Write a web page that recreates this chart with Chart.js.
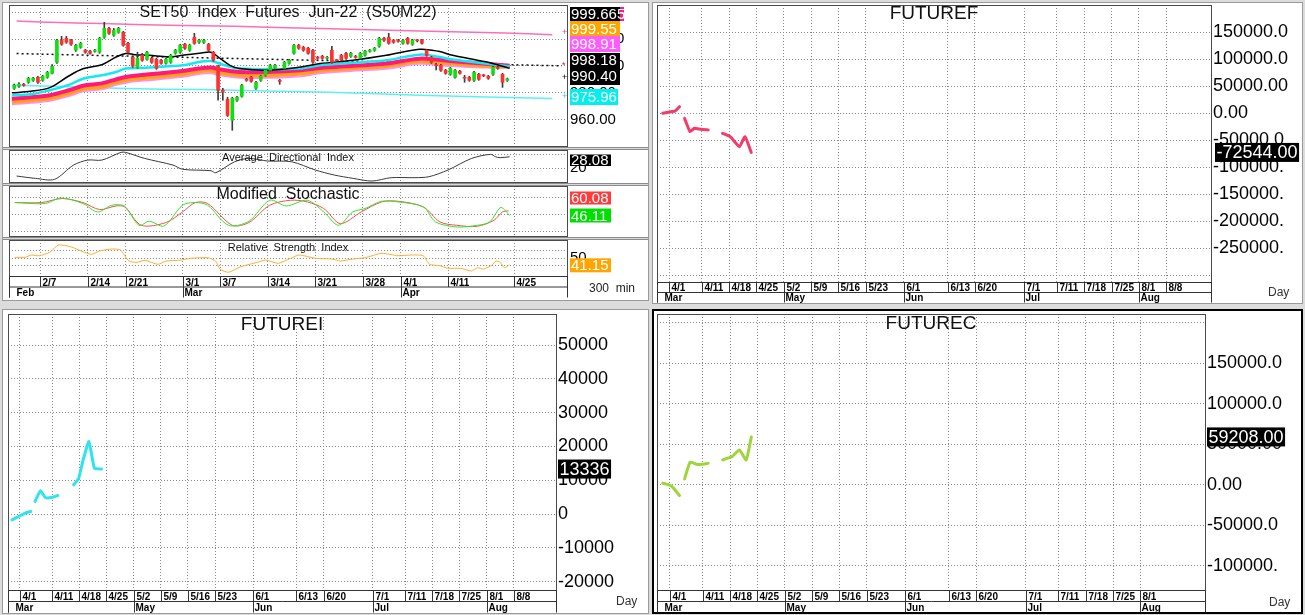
<!DOCTYPE html>
<html lang="en">
<head>
<meta charset="UTF-8">
<title>SET50 futures</title>
<script src="https://cdn.jsdelivr.net/npm/chart.js"></script>
<style>
  body { margin: 0; width: 1305px; height: 615px; background: #dcdcdc; position: relative; overflow: hidden; }
  .panel { position: absolute; background: #fff; border: 1px solid #9a9a9a; box-sizing: border-box; }
  .sep { position: absolute; background: #d8d8d8; border-top: 1px solid #8c8c8c; border-bottom: 1px solid #8c8c8c; box-sizing: border-box; }
  canvas { position: absolute; }
</style>
</head>
<body>
<div class="panel" style="left:2px;top:2px;width:647px;height:299px"></div>
<div class="panel" style="left:652px;top:2px;width:651px;height:302px"></div>
<div class="panel" style="left:2px;top:309px;width:647px;height:305px"></div>
<div class="panel" style="left:652px;top:309px;width:651px;height:305px;border:2px solid #000"></div>
<div class="sep" style="left:3px;top:147px;width:645px;height:3px"></div>
<div class="sep" style="left:3px;top:183px;width:645px;height:3px"></div>
<div class="sep" style="left:3px;top:237px;width:645px;height:3px"></div>

<canvas id="cPrice" width="648" height="147" style="left:0;top:0"></canvas>
<canvas id="cAdx" width="648" height="33" style="left:0;top:150px"></canvas>
<canvas id="cStoch" width="648" height="51" style="left:0;top:186px"></canvas>
<canvas id="cRsi" width="648" height="60" style="left:0;top:240px"></canvas>
<canvas id="cF" width="655" height="305" style="left:650px;top:0"></canvas>
<canvas id="cI" width="650" height="310" style="left:0;top:305px"></canvas>
<canvas id="cC" width="655" height="310" style="left:650px;top:305px"></canvas>

<script>
// ---- SET50 futures, 300 min bars (bar 2 .. bar 106) ----
const firstBar = 2;
const opens  = [983.3,984.8,986.3,987.8,989.3,991.5,989.3,991.5,994.5,1002.8,1019.3,1020.7,1019.3,1011.8,1014.0,1011.8,1011.0,1011.0,1010.3,1021.5,1028.2,1023.0,1025.2,1025.2,1017.0,1006.5,999.0,1008.0,1005.0,1005.8,1005.0,1004.3,1002.0,1002.8,1009.5,1010.3,1016.3,1011.8,1021.5,1017.8,1017.8,1016.3,1010.3,999.8,981.8,975.1,959.3,974.3,977.3,990.0,991.5,983.3,989.3,993.0,996.8,998.3,989.3,998.3,1002.0,1009.5,1015.5,1014.0,1013.3,1011.8,1006.5,1007.3,1005.8,1011.8,1004.3,1008.0,1009.5,1007.3,1007.3,1005.8,1008.0,1011.0,1011.8,1014.8,1020.7,1021.5,1019.3,1019.3,1017.0,1020.7,1016.3,1019.3,1019.3,1011.8,1006.5,1000.5,1000.5,996.8,993.8,991.5,996.0,991.0,991.5,989.3,993.8,993.0,992.3,993.8,999.0,993.8,989.3];
const closes = [985.5,986.3,985.5,990.8,990.8,987.8,992.3,995.3,999.8,1019.3,1016.3,1017.8,1016.3,1015.5,1017.0,1010.3,1009.5,1011.8,1020.7,1028.2,1024.5,1026.7,1028.2,1015.5,1010.3,999.8,1005.8,1004.3,1010.3,1002.8,998.3,1002.0,1005.0,1008.0,1011.8,1015.5,1013.3,1015.5,1017.0,1019.3,1019.3,1011.8,1004.3,981.8,980.3,963.0,975.8,976.6,985.5,989.3,988.5,987.8,992.3,996.8,1000.5,1000.5,988.5,1002.8,1004.3,1015.5,1013.3,1011.8,1009.5,1002.8,1005.8,1005.8,1006.5,1002.8,1004.0,1004.3,1005.8,1009.5,1006.5,1009.5,1011.0,1011.8,1013.3,1020.7,1019.3,1017.0,1017.8,1018.5,1019.3,1017.0,1019.3,1018.9,1017.0,1008.0,1002.8,1000.2,996.8,994.5,998.3,996.8,994.5,990.8,989.3,995.3,990.0,992.6,990.8,999.0,998.3,987.8,990.4];
const highs  = [986.5,987.5,987.0,991.5,991.5,992.3,993.0,996.0,1001.0,1020.0,1022.2,1022.2,1020.0,1016.3,1017.8,1012.5,1011.8,1012.5,1021.5,1032.7,1029.0,1028.2,1029.0,1026.0,1017.8,1007.3,1010.3,1009.5,1011.0,1006.5,1005.8,1005.0,1005.8,1008.8,1012.5,1016.3,1017.0,1016.3,1024.5,1020.0,1020.0,1017.0,1011.0,1000.5,983.3,976.6,976.6,977.3,986.3,990.8,992.3,988.5,993.0,997.5,1001.3,1001.3,990.0,1003.5,1005.0,1016.3,1016.3,1014.8,1014.0,1012.5,1007.3,1008.0,1007.3,1014.8,1005.0,1008.8,1010.3,1010.3,1008.0,1010.3,1011.8,1012.5,1014.0,1021.5,1021.5,1024.5,1020.0,1020.0,1020.0,1021.5,1020.0,1020.0,1020.0,1012.5,1007.3,1002.0,1001.3,997.5,999.0,997.5,996.8,993.0,992.3,996.0,994.5,993.8,993.0,999.8,999.8,994.5,991.0];
const lows   = [982.5,984.0,984.8,987.0,988.5,987.0,988.5,990.8,994.0,1002.0,1015.5,1017.0,1015.5,1011.0,1013.3,1009.5,1008.8,1010.3,1009.5,1020.7,1023.7,1022.2,1024.5,1014.8,1009.5,999.0,998.3,1003.5,1004.3,1002.0,997.5,1001.3,1001.3,1002.0,1008.8,1009.5,1012.5,1011.0,1016.3,1017.0,1017.0,1011.0,1003.5,974.3,974.3,962.2,951.8,973.5,976.6,988.5,987.8,982.5,988.5,992.3,996.0,997.5,986.3,997.5,1001.3,1008.8,1012.5,1011.0,1008.8,1002.0,1005.0,1005.0,1005.0,1002.0,1003.5,1003.5,1005.0,1006.5,1005.8,1005.0,1007.3,1010.3,1011.0,1014.0,1018.5,1016.3,1017.0,1017.8,1016.3,1016.3,1015.5,1018.0,1016.3,1007.3,1002.0,997.0,996.0,993.8,993.0,990.8,993.8,987.8,988.5,988.5,989.3,992.0,990.0,993.0,997.5,984.0,988.5];

// moving averages, read at these bar positions
const maX       = [2,6,10,14,17,21,24,26,28,31,35,38,42,44,46,48,50,56,63,67,74,81,88,92,95,102,107];
const maBlack   = [979.9,981.0,983.8,992.5,997.9,1000.9,1006.7,1009.3,1008.5,1008.0,1006.9,1008.0,1009.7,1010.3,1005.5,1000.5,998.1,996.8,999.3,1001.8,1004.3,1008.0,1012.5,1011.0,1008.0,1003.1,998.2];
const maCyan    = [978.1,978.8,981.8,985.9,990.4,993.0,995.5,998.1,998.4,998.8,999.8,1000.5,1003.3,1003.7,1001.6,999.4,998.1,997.5,998.1,1000.5,1002.4,1004.3,1008.5,1006.9,1004.8,1001.8,999.7];
const maPink    = [975.4,976.6,978.1,981.8,985.2,987.0,990.0,991.8,992.7,993.8,995.1,996.3,998.3,998.8,997.3,996.3,995.5,995.5,996.8,998.5,1000.1,1001.8,1005.5,1004.6,1003.5,1001.6,1000.2];
const maOrange  = [973.2,974.3,975.8,979.3,982.9,984.4,987.8,989.3,990.4,991.3,992.7,993.8,996.3,996.4,994.9,993.8,993.0,993.0,994.3,996.4,998.3,999.8,1003.5,1002.5,1001.8,1000.1,999.55];
const maMagenta = [971.3,972.4,973.9,977.4,981.0,982.5,985.9,987.4,988.5,989.4,990.8,991.9,994.4,994.5,993.0,991.9,991.1,991.1,992.4,994.5,996.4,997.9,1001.6,1000.6,999.9,998.8,998.9];
const envUpX = [3,10,21,35,49,67,88,106,116];
const envUp  = [1033.7,1032.7,1031.8,1030.5,1029.7,1028.0,1026.2,1024.7,1023.5];
const envLoX = [2,11,26,42,56,67,88,116];
const envLo  = [985.5,984.8,983.1,982.3,981.3,980.5,978.1,975.6];
const trendX = [3,118];
const trendY = [1009.3,1000.1];

// indicators
const adxX = [3,7,11,15,18,21,25,26,30,36,38,44,45,49,52,56,61,66,70,74,78,82,87,90,94,99,103,104,105,107];
const adxY = [14.3,12.6,11.9,22.1,25.7,25.7,31.2,31.2,26.9,22.1,19.1,18.1,16.6,24.5,26.9,25.0,24.5,18.6,15.0,12.6,10.7,13.1,13.1,13.8,18.6,26.9,29.8,28.1,27.4,28.08];
const stRedX = [2.6,8.3,12.6,17,20.5,24,25.8,29.3,34.5,38,40.7,43.3,48.5,52,56.4,60.8,64.3,67.8,71.3,75.7,80,83.5,88.8,92.3,95.8,100.2,103.7,105.5,106.8];
const stRedY = [84.4,84.4,96.2,84.4,63.8,74.4,71.5,17.6,25.6,56.8,84.4,81.5,17.6,25.6,76.5,91.2,86.2,66.8,22.6,56.8,86.2,88.2,71.5,27.4,17.6,14.7,32.4,56.8,60.08];
const stGrnX = [2.6,9.1,12.2,17,20.1,23.1,25.8,28.8,31,34.1,38,40.7,43.3,47.7,52,56.4,59.9,64.3,67.8,70.9,73.9,76.5,80,83.5,88.8,91.4,95.8,100.2,102.8,105,105.9,107];
const stGrnY = [84.4,81.5,97.9,81.5,56.8,76.5,73.5,17.6,29.4,15.6,76.5,84.4,76.5,17.6,29.4,91.2,74.4,91.2,56.8,17.6,56.8,66.8,88.2,86.2,71.5,27.4,12.6,17.6,27.4,69.7,63.8,46.11];
const rsiX = [2.6,4.8,6.1,7.8,10,11.8,14.4,17,18.8,20.5,23.1,24.9,26.7,28.4,30.1,32.8,34.5,37.2,39.8,43.3,45,45.9,47.7,50.3,53.8,55.5,58.2,60.8,62.6,66.1,69.6,71.3,73.9,76.5,80,83.5,86.2,88.8,90.1,92.3,94,96.7,98.9,100.2,101.5,103.3,104.1,105,105.9,107];
const rsiY = [51.4,51.4,54.5,53.5,58.2,68.1,65.8,59,55.4,59.9,62.7,61.3,46.3,44.6,47.3,41.8,46.3,47.3,50,50.8,46.3,35.4,31,38.6,44.6,47.7,43.2,50,54.5,50,49,46.3,49,50.8,56.8,53.5,54.5,53.5,41.8,39.9,36.4,36.4,32.7,37.2,35.4,40.9,46.3,44.6,37.2,41.15];

// top-left date axis
const tlHolidays = ['2/16','4/6','4/13','4/14','4/15'];
const tlTickLabels = ['2/7','2/14','2/21','3/1','3/7','3/14','3/21','3/28','4/1','4/11','4/25'];
const tlMonthStarts = ['2/1','3/1','4/1'];
const tlMonthNames = ['Feb','Mar','Apr'];

// FUTUREF / FUTUREI / FUTUREC (daily, null = break in the line)
const futurefX = [2.85,4.38,5.15,5.92,6.4,6.85,7.86,8.63,9.78,11.17,12.5,13.8,15.2,16.9,17.9,19.05];
const futurefY = [0,3000,4300,12300,null,-9260,-34000,-27800,-29600,-30900,null,-37000,-43300,-61800,-43300,-72544];
const futureiX = [2.6,4.15,5.07,6.06,6.45,6.84,7.83,8.74,9.9,11.04,12.5,13.95,14.85,15.63,16.77,17.77,19.08];
const futureiY = [-1690,-410,300,770,null,3730,6900,4900,4900,5500,null,8670,10440,15560,21480,13610,13336];
const futurecX = [2.7,3.85,4.6,5.77,6.2,6.7,7.7,8.86,10,11.0,12.3,13.65,15.4,16.7,17.96,18.9];
const futurecY = [2100,0,-3300,-13200,null,7400,28000,25500,25500,26800,null,30900,35000,43200,30900,59208];
const futurefTicks = [-300000,-250000,-200000,-150000,-100000,-50000,0,50000,100000,150000,200000];
const futureiTicks = [-20000,-10000,0,10000,20000,30000,40000,50000];
const futurecTicks = [-100000,-50000,0,50000,100000,150000,200000];
const dayTickLabels = ['4/1','4/11','4/18','4/25','5/2','5/9','5/16','5/23','6/1','6/13','6/20','7/1','7/11','7/18','7/25','8/1','8/8'];
const dayTickLabelsC = ['4/1','4/11','4/18','4/25','5/2','5/9','5/16','5/23','6/1','6/13','6/20','7/1','7/11','7/18','7/25','8/1'];
const monthStarts = ['3/28','5/2','6/1','7/1','8/1'];
const monthNames = ['Mar','May','Jun','Jul','Aug'];

const FONT = '"Liberation Sans", Arial, sans-serif';
Chart.defaults.font.family = FONT;
Chart.defaults.color = '#000';
Chart.defaults.animation = false;

function dayList(from, to, skip) {
  const f = from.split('-').map(Number), t = to.split('-').map(Number);
  const d = new Date(f[0], f[1] - 1, f[2]), end = new Date(t[0], t[1] - 1, t[2]);
  const out = [];
  while (d <= end) {
    const lbl = (d.getMonth() + 1) + '/' + d.getDate();
    if (d.getDay() % 6 !== 0 && skip.indexOf(lbl) < 0) out.push(lbl);
    d.setDate(d.getDate() + 1);
  }
  return out;
}
const tlDays = dayList('2022-02-01', '2022-04-29', tlHolidays);
const tlTickU = tlTickLabels.map(l => 2 * tlDays.indexOf(l));
const tlMonthU = tlMonthStarts.map(l => 2 * tlDays.indexOf(l));
const rDays = dayList('2022-03-28', '2022-08-31', []);
const dayTickX = dayTickLabels.map(l => rDays.indexOf(l));
const dayTickXC = dayTickLabelsC.map(l => rDays.indexOf(l));
const monthX = monthStarts.map(l => rDays.indexOf(l));

function pts(xs, ys) { return xs.map((x, i) => ({x: x, y: ys[i]})); }

function deco(o) {
  return {
    id: 'deco',
    afterDraw(chart) {
      const ctx = chart.ctx, a = chart.chartArea, sx = chart.scales.x, sy = chart.scales.y;
      const ox = o.ox || 0, oy = o.oy || 0;
      ctx.save();
      ctx.lineWidth = 1;
      ctx.strokeStyle = '#4a4a4a';
      const L = Math.round(a.left) + 0.5, R = Math.round(a.right) + 0.5;
      const T = Math.round(a.top) + 0.5, B = Math.round(a.bottom) - 0.5;
      ctx.strokeRect(L, T, R - L, B - T);
      if (o.title) {
        ctx.font = o.titleFont; ctx.fillStyle = '#111';
        ctx.textAlign = 'center'; ctx.textBaseline = 'middle';
        ctx.fillText(o.title, (a.left + a.right) / 2, a.top + o.titleDy);
      }
      if (o.dates) {
        const d = o.dates, y0 = B, h = d.rowH;
        ctx.strokeStyle = '#333';
        ctx.beginPath();
        ctx.moveTo(L, y0); ctx.lineTo(R, y0);
        ctx.moveTo(L, y0 + h); ctx.lineTo(R, y0 + h);
        ctx.moveTo(L, y0); ctx.lineTo(L, y0 + 2 * h);
        ctx.moveTo(R, y0); ctx.lineTo(R, y0 + 2 * h);
        ctx.stroke();
        ctx.font = 'bold 10px ' + FONT; ctx.fillStyle = '#000';
        ctx.textAlign = 'left'; ctx.textBaseline = 'middle';
        d.ticks.forEach((v, i) => {
          const px = Math.round(sx.getPixelForValue(v)) + 0.5;
          ctx.beginPath(); ctx.moveTo(px, y0); ctx.lineTo(px, y0 + h); ctx.stroke();
          ctx.fillText(d.labels[i], px + 2, y0 + h / 2 + 1);
        });
        d.months.forEach((v, i) => {
          const px = Math.max(Math.round(sx.getPixelForValue(v)) + 0.5, L);
          ctx.beginPath(); ctx.moveTo(px, y0 + h); ctx.lineTo(px, y0 + 2 * h); ctx.stroke();
          ctx.fillText(d.monthLabels[i], Math.max(px, L + 6) + 1, y0 + 1.5 * h + 1);
        });
      }
      (o.boxes || []).forEach(b => {
        ctx.fillStyle = b.bg; ctx.fillRect(b.x - ox, b.y - oy, b.w, b.h);
        ctx.fillStyle = '#fff'; ctx.font = b.font || ('15px ' + FONT);
        ctx.textAlign = 'left'; ctx.textBaseline = 'middle';
        ctx.fillText(b.t, b.x - ox + 1, b.y - oy + b.h / 2 + 1);
      });
      if (o.last) {
        const py = sy.getPixelForValue(o.last.v);
        ctx.font = '18px ' + FONT;
        const w = ctx.measureText(o.last.t).width + 3;
        ctx.fillStyle = '#000'; ctx.fillRect(a.right + o.last.dx, py - 9.5, w, 19);
        ctx.fillStyle = '#fff'; ctx.textAlign = 'left'; ctx.textBaseline = 'middle';
        ctx.fillText(o.last.t, a.right + o.last.dx + 1.5, py + 1);
      }
      (o.texts || []).forEach(t => {
        ctx.font = t.font; ctx.fillStyle = t.c || '#333';
        ctx.textAlign = 'left'; ctx.textBaseline = 'middle';
        ctx.fillText(t.t, t.x - ox, t.y - oy);
      });
      ctx.restore();
    }
  };
}

function xScale(min, max, ticks) {
  return {
    type: 'linear', min: min, max: max, offset: false,
    afterBuildTicks: s => { s.ticks = ticks.map(v => ({value: v})); },
    ticks: {display: false},
    grid: {color: '#8a8a8a', drawTicks: false, offset: false},
    border: {display: false, dash: [1, 2]}
  };
}
function yScale(min, max, ticks, fmt, width, size, pad) {
  return {
    type: 'linear', position: 'right', min: min, max: max,
    afterBuildTicks: s => { s.ticks = ticks.map(v => ({value: v})); },
    afterFit: s => { s.width = width; s.paddingTop = 0; s.paddingBottom = 0; },
    ticks: {callback: fmt, font: {size: size}, color: '#000', padding: pad, autoSkip: false, maxRotation: 0},
    grid: {color: '#8a8a8a', drawTicks: false},
    border: {display: false, dash: [1, 2]}
  };
}
function baseOpts(padding, x, y) {
  return {
    responsive: false, maintainAspectRatio: false, animation: false, events: [],
    layout: {padding: padding},
    plugins: {legend: {display: false}, tooltip: {enabled: false}},
    scales: {x: x, y: y}
  };
}
function line(data, color, width, order, extra) {
  return Object.assign({type: 'line', data: data, borderColor: color, borderWidth: width,
    pointRadius: 0, tension: 0.35, fill: false, order: order}, extra || {});
}

// ---- price pane ----
const bodies = opens.map((o, i) => ({x: firstBar + i + 0.5, y: [Math.min(o, closes[i]), Math.max(o, closes[i])]}));
const wicks = opens.map((o, i) => ({x: firstBar + i + 0.5, y: [lows[i], highs[i]]}));
const bodyColors = opens.map((o, i) => closes[i] >= o ? '#10e010' : '#ff3030');
const TL_X = [1.4, 119.1];
const mark = '9px ' + FONT;

new Chart(document.getElementById('cPrice'), {
  type: 'bar',
  data: {datasets: [
    {type: 'bar', data: bodies, backgroundColor: bodyColors, barThickness: 3, grouped: false, minBarLength: 1, order: 0},
    {type: 'bar', data: wicks, backgroundColor: '#3c3c3c', barThickness: 1, grouped: false, order: 1},
    line(pts(maX, maBlack), '#000', 1.5, 2),
    line(pts(maX, maCyan), '#14e8f5', 2.5, 3),
    line(pts(maX, maPink), '#ff1a7a', 4, 4),
    line(pts(maX, maOrange), '#ffa21a', 4, 5),
    line(pts(maX, maMagenta), '#ff8cff', 2, 6),
    line(pts(envUpX, envUp), '#ff6eb4', 1.5, 7),
    line(pts(envLoX, envLo), '#5cf0f8', 1.5, 7),
    line(pts(trendX, trendY), '#111', 1.5, 8, {borderDash: [2, 3], tension: 0})
  ]},
  options: baseOpts({left: 9, top: 5, right: 0, bottom: 0},
    xScale(TL_X[0], TL_X[1], tlTickU),
    yScale(939.3, 1045.7, [940, 960, 980, 1000, 1020, 1040],
      v => (v === 940 || v === 1040) ? '' : v.toFixed(2), 81, 15, 3)),
  plugins: [deco({
    title: 'SET50  Index  Futures  Jun-22  (S50M22)', titleFont: '16px ' + FONT, titleDy: 8,
    boxes: [
      {t: '999.665', bg: '#ff1a8c', x: 570, y: 7, w: 54, h: 14},
      {t: '999.665', bg: '#000', x: 570, y: 7, w: 50, h: 14},
      {t: '999.55', bg: '#ffa500', x: 570, y: 21, w: 50, h: 15},
      {t: '998.91', bg: '#ff5cff', x: 570, y: 36, w: 50, h: 16},
      {t: '998.18', bg: '#000', x: 570, y: 53, w: 50, h: 14},
      {t: '990.40', bg: '#000', x: 570, y: 67, w: 50, h: 18},
      {t: '975.96', bg: '#00f0f0', x: 570, y: 89, w: 48, h: 16}
    ],
    texts: [
      {t: '+', x: 562, y: 33, font: mark, c: '#ff3399'},
      {t: '*', x: 562, y: 66, font: mark, c: '#e02020'},
      {t: '+', x: 562, y: 78, font: mark, c: '#000'},
      {t: '+', x: 562, y: 97, font: mark, c: '#22dddd'}
    ]
  })]
});

// ---- ADX ----
new Chart(document.getElementById('cAdx'), {
  type: 'line',
  data: {datasets: [line(pts(adxX, adxY), '#3a3a3a', 1, 0, {tension: 0.3})]},
  options: baseOpts({left: 9, top: 0, right: 0, bottom: 0},
    xScale(TL_X[0], TL_X[1], tlTickU),
    yScale(9.3, 32.9, [10, 20, 30], v => v === 20 ? '20' : '', 81, 15, 3)),
  plugins: [deco({
    oy: 150, title: 'Average  Directional  Index', titleFont: '11px ' + FONT, titleDy: 7.5,
    boxes: [{t: '28.08', bg: '#000', x: 570, y: 154.5, w: 41, h: 11.5}]
  })]
});

// ---- Modified Stochastic ----
new Chart(document.getElementById('cStoch'), {
  type: 'line',
  data: {datasets: [
    line(pts(stGrnX, stGrnY), '#2ee62e', 1, 0, {tension: 0.3}),
    line(pts(stRedX, stRedY), '#ff4a4a', 1, 1, {tension: 0.3})
  ]},
  options: baseOpts({left: 9, top: 0, right: 0, bottom: 0},
    xScale(TL_X[0], TL_X[1], tlTickU),
    yScale(-16.8, 133, [0, 50, 100], () => '', 81, 15, 3)),
  plugins: [deco({
    oy: 186, title: 'Modified  Stochastic', titleFont: '16px ' + FONT, titleDy: 9,
    boxes: [
      {t: '60.08', bg: '#ff3b3b', x: 570, y: 191.5, w: 41, h: 13},
      {t: '46.11', bg: '#00e000', x: 570, y: 208.5, w: 41, h: 14}
    ]
  })]
});

// ---- RSI + date axis ----
new Chart(document.getElementById('cRsi'), {
  type: 'line',
  data: {datasets: [line(pts(rsiX, rsiY), '#ffac2e', 1, 0, {tension: 0.2})]},
  options: baseOpts({left: 9, top: 0, right: 0, bottom: 23},
    xScale(TL_X[0], TL_X[1], tlTickU),
    yScale(24.6, 74.9, [40, 50, 60], v => v === 50 ? '50' : '', 81, 15, 3)),
  plugins: [deco({
    oy: 240, title: 'Relative  Strength  Index', titleFont: '11px ' + FONT, titleDy: 7.5,
    boxes: [{t: '41.15', bg: '#ffa500', x: 570, y: 258.3, w: 41, h: 14}],
    dates: {rowH: 10.5, ticks: tlTickU, labels: tlTickLabels, months: tlMonthU, monthLabels: tlMonthNames},
    texts: [{t: '300  min', x: 589, y: 289, font: '12px ' + FONT, c: '#222'}]
  })]
});

// ---- right-hand and lower panels ----
function futurePanel(p) {
  new Chart(document.getElementById(p.id), {
    type: 'line',
    data: {datasets: [line(pts(p.xs, p.ys), p.color, 3, 0,
      {tension: 0.15, spanGaps: false, borderCapStyle: 'round', borderJoinStyle: 'round'})]},
    options: baseOpts(p.pad, xScale(p.xr[0], p.xr[1], p.dayX),
      yScale(p.yr[0], p.yr[1], p.ticks, p.fmt, p.axisW, 18, 2)),
    plugins: [deco({
      ox: p.ox, oy: p.oy, title: p.title, titleFont: '19px ' + FONT, titleDy: p.titleDy,
      dates: {rowH: p.rowH, ticks: p.dayX, labels: p.dayLabels, months: monthX, monthLabels: monthNames},
      last: p.last,
      texts: [{t: 'Day', x: p.dayPos[0], y: p.dayPos[1], font: '12px ' + FONT, c: '#333'}]
    })]
  });
}
const fmtBig = hide => v => hide.indexOf(v) >= 0 ? '' : v.toFixed(2).slice(0, 8);

futurePanel({
  id: 'cF', ox: 650, oy: 0, xs: futurefX, ys: futurefY, color: '#f23c6a',
  pad: {left: 7, top: 5, right: 0, bottom: 22}, axisW: 94,
  xr: [1.8, 103.2], yr: [-314800, 201000], ticks: futurefTicks, fmt: fmtBig([200000, -300000]),
  title: 'FUTUREF', titleDy: 9, rowH: 10, dayX: dayTickX, dayLabels: dayTickLabels,
  last: {v: -72544, t: '-72544.00', dx: 4}, dayPos: [1268, 293]
});
futurePanel({
  id: 'cI', ox: 0, oy: 305, xs: futureiX, ys: futureiY, color: '#2fe4ee',
  pad: {left: 8, top: 9, right: 0, bottom: 24}, axisW: 94,
  xr: [1.86, 102.8], yr: [-22750, 59200], ticks: futureiTicks, fmt: v => String(v),
  title: 'FUTUREI', titleDy: 11, rowH: 11, dayX: dayTickX, dayLabels: dayTickLabels,
  last: {v: 13336, t: '13336', dx: 2}, dayPos: [616, 602]
});
futurePanel({
  id: 'cC', ox: 650, oy: 305, xs: futurecX, ys: futurecY, color: '#9ed53c',
  pad: {left: 7, top: 9, right: 0, bottom: 24}, axisW: 100,
  xr: [1.66, 101.8], yr: [-130900, 210900], ticks: futurecTicks, fmt: fmtBig([200000]),
  title: 'FUTUREC', titleDy: 10, rowH: 11, dayX: dayTickXC, dayLabels: dayTickLabelsC,
  last: {v: 59208, t: '59208.00', dx: 2}, dayPos: [1269, 603]
});
</script>
</body>
</html>
